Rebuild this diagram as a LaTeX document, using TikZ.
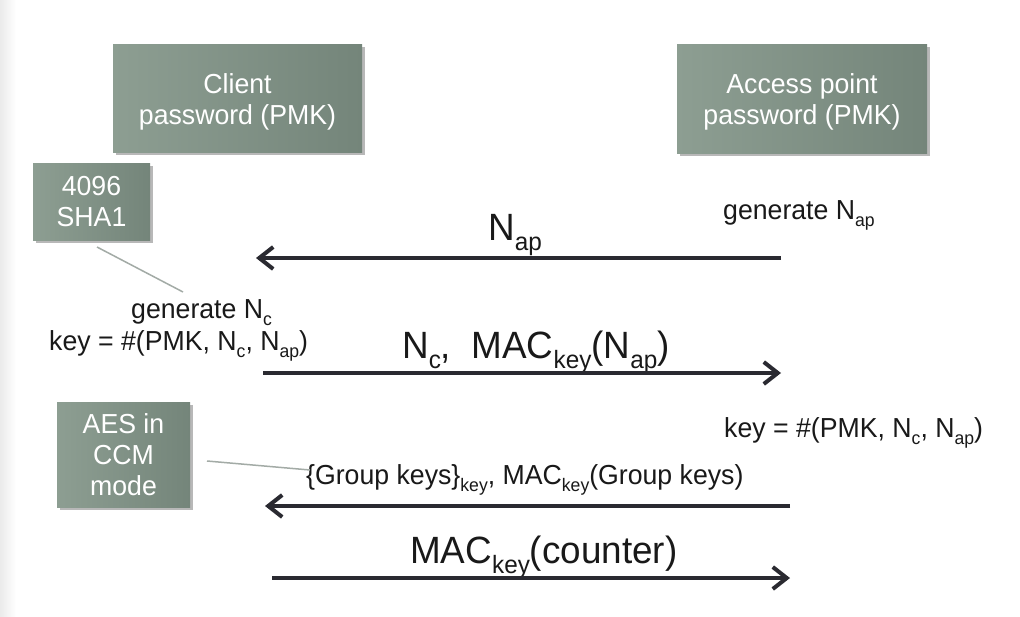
\documentclass[tikz,border=0pt]{standalone}
\usepackage{fontspec}
\usepackage{graphicx}
\setmainfont{Liberation Sans}[FakeStretch=0.97]
\usetikzlibrary{arrows.meta,shadows}
\newcommand\sbs[1]{\raisebox{-0.27em}{\scalebox{0.66}{#1}}}
\newcommand\topstrut{\rule{0pt}{27pt}}
\definecolor{boxA}{HTML}{8D9E92}
\definecolor{boxB}{HTML}{74857A}
\definecolor{ink}{HTML}{2A2A31}
\definecolor{calloutc}{HTML}{A3ABA6}
\begin{document}
\begin{tikzpicture}[x=1pt,y=-1pt,
  greenbox/.style={draw=none, left color=boxA, right color=boxB, text=white, inner sep=0pt, align=center,
    font=\fontsize{27.5}{31}\selectfont,
    drop shadow={shadow xshift=2.5pt, shadow yshift=-3pt, fill=black!55, opacity=0.5}},
  small/.style={inner sep=0pt, anchor=base west, text=black!90, font=\fontsize{27.5}{30}\selectfont},
  big/.style={inner sep=0pt, anchor=base west, text=black!90, font=\fontsize{38}{40}\selectfont},
  msg/.style={draw=ink, line width=4pt, -{Straight Barb[length=14pt,width=22pt,line width=4pt]}},
  calloutline/.style={draw=calloutc, line width=1.5pt}]
\useasboundingbox (0,0) rectangle (1020,616);
\fill[white] (0,0) rectangle (1020,616);
\fill[left color=black!8, right color=white] (0,0) rectangle (16,616);

% boxes
\node[greenbox, minimum width=249pt, minimum height=108pt] (client) at (237.5,98) {\topstrut Client\\password (PMK)};
\node[greenbox, minimum width=250pt, minimum height=109pt] (ap) at (802,98.5) {\topstrut Access point\\password (PMK)};
\node[greenbox, minimum width=117pt, minimum height=77pt] (sha) at (91.5,201.5) {4096\\SHA1};
\node[greenbox, minimum width=133pt, minimum height=105pt] (aes) at (123.5,454.5) {AES in\\CCM\\mode};

% texts
\node[small] (genap) at (723,219) {generate N\sbs{ap}};
\node[big] (nap) at (488,240) {N\sbs{ap}};
\node[small] (genc) at (131,318) {generate N\sbs{c}};
\node[small] (keyc) at (49,350) {key = \#(PMK, N\sbs{c}, N\sbs{ap})};
\node[big] (m2) at (402,358) {N\sbs{c},\ \ MAC\sbs{key}(N\sbs{ap})};
\node[small] (keyap) at (724,437) {key = \#(PMK, N\sbs{c}, N\sbs{ap})};
\node[small] (m3) at (306,484) {\{Group keys\}\sbs{key}, MAC\sbs{key}(Group keys)};
\node[big] (m4) at (410,563) {MAC\sbs{key}(counter)};

% arrow end points
\coordinate (a1s) at (781,258); \coordinate (a1e) at (256,258);
\coordinate (a2s) at (263,373); \coordinate (a2e) at (781,373);
\coordinate (a3s) at (790,506); \coordinate (a3e) at (265,506);
\coordinate (a4s) at (272,578); \coordinate (a4e) at (790,578);
\draw[msg] (a1s) -- (a1e);
\draw[msg] (a2s) -- (a2e);
\draw[msg] (a3s) -- (a3e);
\draw[msg] (a4s) -- (a4e);

% callouts
\coordinate (co1s) at (97,247); \coordinate (co1e) at (183,292);
\coordinate (co2s) at (207,461); \coordinate (co2e) at (310,470);
\draw[calloutline] (co1s) -- (co1e);
\draw[calloutline] (co2s) -- (co2e);
\end{tikzpicture}
\end{document}
